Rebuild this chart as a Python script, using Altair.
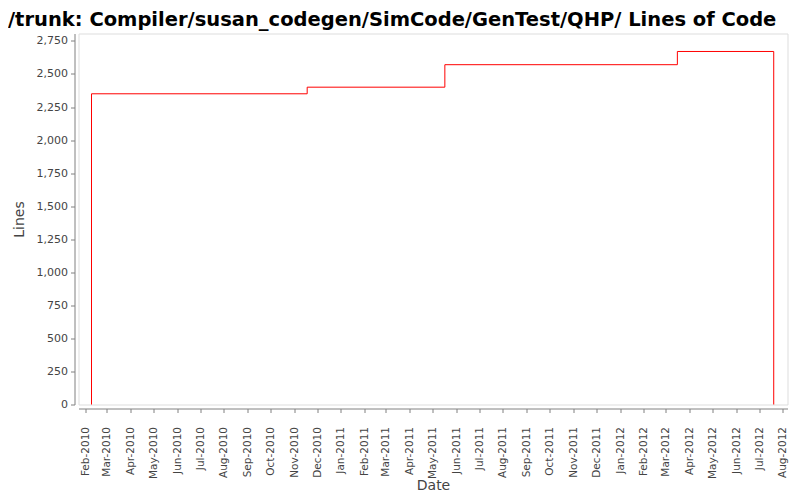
import altair as alt
import pandas as pd

dates = ["2010-02-09", "2010-02-09", "2010-11-18", "2011-05-17", "2012-03-16", "2012-07-20", "2012-07-20"]
lines = [0, 2350, 2400, 2570, 2670, 2670, 0]
order = list(range(len(dates)))

months = []
for y in (2010, 2011, 2012):
    for m in range(1, 13):
        if (2010, 2) <= (y, m) <= (2012, 8):
            months.append((y, m))

df = pd.DataFrame({"date": dates, "lines": lines, "order": order})

tick_vals = [alt.DateTime(year=y, month=m, date=1, utc=True) for y, m in months]

axis_common = dict(grid=False, offset=4, labelColor="#444444",
                   titleFontSize=14, titleColor="#444444", titleFontWeight="normal",
                   domainColor="#808080", tickColor="#808080", tickSize=4,
                   labelFont="DejaVu Sans", titleFont="DejaVu Sans")

chart = alt.Chart(df).mark_line(color="#ff0000", strokeWidth=1, interpolate="step-after").encode(
    x=alt.X("date:T",
            scale=alt.Scale(type="utc",
                            domain=[alt.DateTime(year=2010, month=1, date=23, utc=True),
                                    alt.DateTime(year=2012, month=8, date=7, utc=True)]),
            axis=alt.Axis(title="Date", values=tick_vals, format="%b-%Y", labelAngle=-90,
                          labelFontSize=10.5, labelPadding=14, titlePadding=0, **axis_common)),
    y=alt.Y("lines:Q",
            scale=alt.Scale(domain=[0, 2806], nice=False),
            axis=alt.Axis(title="Lines", values=list(range(0, 2751, 250)), format=",d",
                          labelFontSize=11, labelPadding=3, titlePadding=10, **axis_common)),
    order="order:Q",
).properties(
    width=709,
    height=371,
    title=alt.TitleParams(
        "/trunk: Compiler/susan_codegen/SimCode/GenTest/QHP/ Lines of Code",
        anchor="start", frame="group", dx=-70.5, offset=3,
        font="DejaVu Sans", fontSize=19.5, fontWeight="bold", color="#000000",
    ),
    autosize=alt.AutoSizeParams(type="none"),
    padding={"left": 70.5, "top": 25.5, "right": 4, "bottom": 95},
).configure_view(
    stroke="#808080", strokeWidth=1
).configure(background="#ffffff")

chart.save("out.html", embed_options={"renderer": "svg", "actions": False})
